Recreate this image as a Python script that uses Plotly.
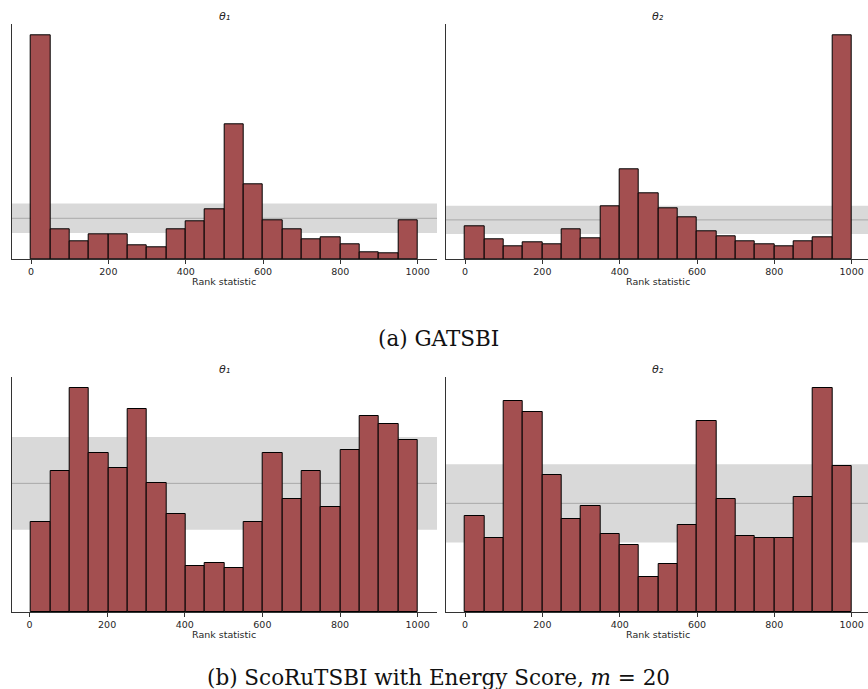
import plotly.graph_objects as go

# Rank-statistic histograms (20 bins) from simulation-based calibration
gatsbi_theta1 = [273, 37, 22, 30, 30, 17, 15, 37, 46, 61, 165, 92, 48, 37, 25, 27, 18, 9, 7, 47]
gatsbi_theta2 = [42, 26, 17, 22, 19, 38, 27, 67, 114, 84, 65, 53, 35, 29, 23, 19, 17, 23, 28, 284]
scoru_theta1 = [35, 55, 87, 62, 56, 79, 50, 38, 18, 19, 17, 35, 62, 44, 55, 41, 63, 76, 73, 67]
scoru_theta2 = [44, 34, 97, 92, 63, 43, 49, 36, 31, 16, 22, 40, 88, 52, 35, 34, 34, 53, 103, 67]

# Smallest / largest observed rank per panel (histogram range)
rank_lo = [0, 0, 4, 0]
rank_hi = [1000, 1000, 1000, 1000]

# Expected count per bin under uniformity and its 99% binomial band
uniform_mean = 50
uniform_lower = 32
uniform_upper = 68

panel_titles = ["θ₁", "θ₂", "θ₁", "θ₂"]
tick_vals = [0, 200, 400, 600, 800, 1000]
captions = ["(a) GATSBI", "(b) ScoRuTSBI with Energy Score, <i>m</i> = 20"]

W, H = 868, 689
BAR_COLOR = "#a34f50"
BAND_COLOR = "#d9d9d9"
MEAN_COLOR = "#a9a9a9"
SPINE_COLOR = "#333333"
TEXT_COLOR = "#262626"

# Axes boxes in pixels: (left, top, bottom); every axes is 425.3 px wide
AX_W = 425.3
boxes = [(11.7, 24.3, 259.3), (445.7, 24.3, 259.3), (11.7, 377.0, 612.0), (445.7, 377.0, 612.0)]
counts_all = [gatsbi_theta1, gatsbi_theta2, scoru_theta1, scoru_theta2]

fig = go.Figure()
layout = dict(
    width=W, height=H, margin=dict(l=0, r=0, t=0, b=0),
    paper_bgcolor="white", plot_bgcolor="white",
    showlegend=False, bargap=0,
)
shapes, annotations = [], []

for i, counts in enumerate(counts_all):
    n = len(counts)
    lo, hi = rank_lo[i], rank_hi[i]
    bw = (hi - lo) / n
    centers = [lo + bw * (k + 0.5) for k in range(n)]
    xa = "x" if i == 0 else f"x{i + 1}"
    ya = "y" if i == 0 else f"y{i + 1}"
    xname = "xaxis" if i == 0 else f"xaxis{i + 1}"
    yname = "yaxis" if i == 0 else f"yaxis{i + 1}"

    fig.add_trace(go.Bar(
        x=centers, y=counts, width=bw, xaxis=xa, yaxis=ya,
        marker=dict(color=BAR_COLOR, line=dict(color="black", width=1)),
        hoverinfo="x+y",
    ))

    left, top, bottom = boxes[i]
    span = hi - lo
    x0 = lo - 0.05 * span
    x1 = hi + 0.05 * span
    right = left + AX_W
    vis_right = min(right, W)
    x1_vis = x0 + (x1 - x0) * (vis_right - left) / AX_W
    ymax = 1.05 * max(counts)

    layout[xname] = dict(
        domain=[left / W, vis_right / W], range=[x0, x1_vis], anchor=ya,
        showline=True, linecolor=SPINE_COLOR, linewidth=1, mirror=False,
        ticks="outside", ticklen=3.5, tickwidth=1, tickcolor=SPINE_COLOR,
        tickvals=tick_vals, tickfont=dict(family="DejaVu Sans", size=9.5, color=TEXT_COLOR),
        showgrid=False, zeroline=False, fixedrange=True,
    )
    layout[yname] = dict(
        domain=[1 - bottom / H, 1 - top / H], range=[0, ymax], anchor=xa,
        showline=True, linecolor=SPINE_COLOR, linewidth=1,
        showticklabels=False, ticks="", showgrid=False, zeroline=False, fixedrange=True,
    )

    # Uniformity band and expected count, spanning the whole axes width
    shapes.append(dict(type="rect", xref=f"{xa} domain", yref=ya, x0=0, x1=1,
                       y0=uniform_lower, y1=uniform_upper, fillcolor=BAND_COLOR,
                       line=dict(width=0), layer="below"))
    shapes.append(dict(type="line", xref=f"{xa} domain", yref=ya, x0=0, x1=1,
                       y0=uniform_mean, y1=uniform_mean,
                       line=dict(color=MEAN_COLOR, width=1), layer="below"))

    cx = (left + AX_W / 2) / W
    annotations.append(dict(
        text=panel_titles[i],
        xref="paper", yref="paper", x=cx, y=1 - (top - 8.0) / H,
        xanchor="center", yanchor="middle", showarrow=False,
        font=dict(family="DejaVu Sans", size=11, color=TEXT_COLOR, style="italic"),
    ))
    annotations.append(dict(
        text="Rank statistic", xref="paper", yref="paper", x=cx, y=1 - (bottom + 22.4) / H,
        xanchor="center", yanchor="middle", showarrow=False,
        font=dict(family="DejaVu Sans", size=9.5, color=TEXT_COLOR),
    ))

for txt, ypx in zip(captions, [338.0, 677.0]):
    annotations.append(dict(
        text=txt, xref="paper", yref="paper", x=439 / W, y=1 - ypx / H,
        xanchor="center", yanchor="middle", showarrow=False,
        font=dict(family="DejaVu Serif", size=21.5, color="#111111"),
    ))

layout["shapes"] = shapes
layout["annotations"] = annotations
fig.update_layout(**layout)
fig.write_html("out.html")
